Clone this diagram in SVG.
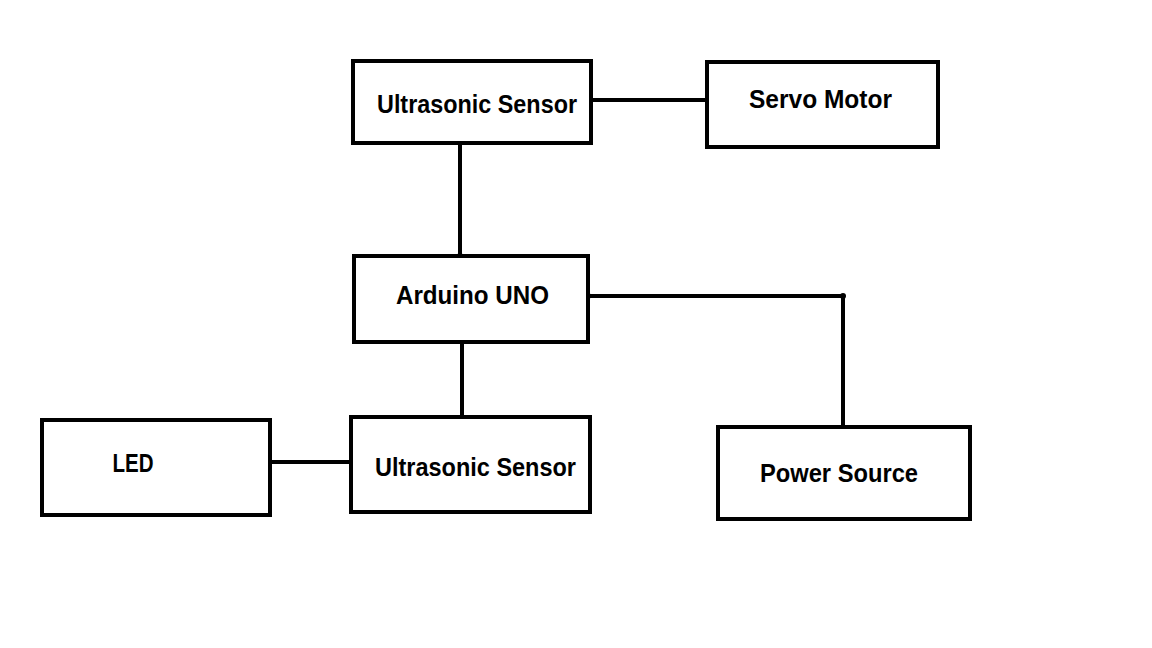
<svg xmlns="http://www.w3.org/2000/svg" width="1152" height="648" viewBox="0 0 1152 648">
<style>
.box{fill:#fff;stroke:#000;stroke-width:4}
.lbl{font-family:"Liberation Sans",Arial,sans-serif;font-weight:bold;font-size:25px;fill:#000;text-anchor:middle}
.wire{fill:none;stroke:#000;stroke-width:4}
.dot{fill:#000}
</style>
<rect width="1152" height="648" fill="#fff"/>
<g id="connectors">
<line class="wire" x1="591" y1="100" x2="710" y2="100"/>
<circle class="dot" cx="710" cy="100" r="3"/>
<line class="wire" x1="460" y1="143" x2="460" y2="256"/>
<circle class="dot" cx="460" cy="256" r="3"/>
<polyline class="wire" points="588,296 843,296 843,426"/>
<circle class="dot" cx="588" cy="296" r="3"/>
<circle class="dot" cx="843" cy="296" r="3"/>
<line class="wire" x1="462" y1="342" x2="462" y2="416"/>
<line class="wire" x1="268" y1="462" x2="351" y2="462"/>
<circle class="dot" cx="268" cy="462" r="3"/>
</g>
<g id="ultrasonic-top">
<rect class="box" x="353" y="61" width="238" height="82"/>
<text class="lbl" x="477" y="113" textLength="200" lengthAdjust="spacingAndGlyphs">Ultrasonic Sensor</text>
</g>
<g id="servo">
<rect class="box" x="707" y="62" width="231" height="85"/>
<text class="lbl" x="820.5" y="108" textLength="143" lengthAdjust="spacingAndGlyphs">Servo Motor</text>
</g>
<g id="arduino">
<rect class="box" x="354" y="256" width="234" height="86"/>
<text class="lbl" x="472.5" y="304" textLength="153" lengthAdjust="spacingAndGlyphs">Arduino UNO</text>
</g>
<g id="ultrasonic-bottom">
<rect class="box" x="351" y="417" width="239" height="95"/>
<text class="lbl" x="475.5" y="476" textLength="201" lengthAdjust="spacingAndGlyphs">Ultrasonic Sensor</text>
</g>
<g id="led">
<rect class="box" x="42" y="420" width="228" height="95"/>
<text class="lbl" x="133" y="472" textLength="41" lengthAdjust="spacingAndGlyphs">LED</text>
</g>
<g id="power">
<rect class="box" x="718" y="427" width="252" height="92"/>
<text class="lbl" x="839" y="482" textLength="158" lengthAdjust="spacingAndGlyphs">Power Source</text>
</g>
</svg>
